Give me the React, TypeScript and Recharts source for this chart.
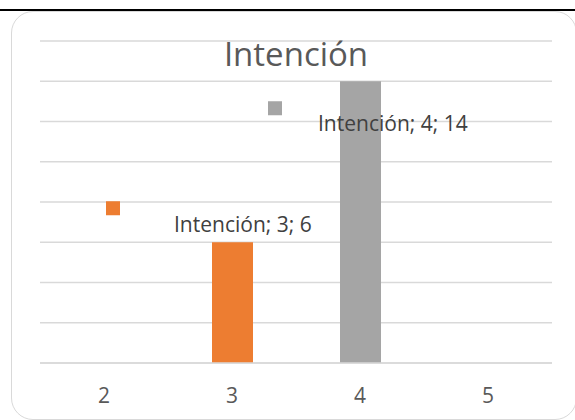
import { BarChart, Bar, XAxis, YAxis, CartesianGrid, Cell, LabelList } from "recharts";

const seriesName = "Intención";
const categories = ["2", "3", "4", "5"];
const values = [0, 6, 14, 0];
const barColors = ["#4472C4", "#ED7D31", "#A5A5A5", "#FFC000"];
const yTicks = [0, 2, 4, 6, 8, 10, 12, 14, 16];

// label placement relative to the bar's top-left corner (labels were dragged in the original)
const labelOffsets = [
  { keyDx: 0, keyDy: 0, textDx: 0, textDy: 0 },
  { keyDx: -106, keyDy: -41, textDx: -38, textDy: -10 },
  { keyDx: -72, keyDy: 20, textDx: -22, textDy: 50 },
  { keyDx: 0, keyDy: 0, textDx: 0, textDy: 0 },
];

const data = categories.map((c, i) => ({ cat: c, value: values[i], idx: i }));

const FONT = "'Open Sans', sans-serif";

// LabelList skips empty bars, so the row index is carried through the "idx" field
function DataLabel(props: any) {
  const { x, y, value: i } = props;
  const v = values[i];
  if (!v) return null;
  const off = labelOffsets[i];
  return (
    <g>
      <rect x={x + off.keyDx} y={y + off.keyDy} width={14} height={14} fill={barColors[i]} />
      <text x={x + off.textDx} y={y + off.textDy} fontFamily={FONT} fontSize={21} fill="#404040">
        {`${seriesName}; ${categories[i]}; ${v}`}
      </text>
    </g>
  );
}

export default function App() {
  return (
    <div style={{ position: "fixed", left: 0, top: 0, width: 575, height: 420, background: "#fff", overflow: "hidden" }}>
      <div style={{ position: "absolute", left: 0, top: 9, width: 575, height: 2, background: "#000" }} />
      <div
        style={{
          position: "absolute",
          left: 11,
          top: 11,
          width: 566,
          height: 409,
          boxSizing: "border-box",
          border: "1.5px solid #d9d9d9",
          borderRadius: 22,
        }}
      />
      <div style={{ position: "absolute", left: 0, top: 0 }}>
        <BarChart width={575} height={420} data={data} margin={{ top: 41, right: 23, left: 40, bottom: 27 }}>
          <CartesianGrid vertical={false} stroke="#d9d9d9" strokeWidth={1.5} />
          <XAxis
            dataKey="cat"
            height={30}
            axisLine={{ stroke: "#d9d9d9", strokeWidth: 1.5 }}
            tickLine={false}
            tickSize={0}
            tickMargin={25}
            tick={{ fontSize: 21, fill: "#595959", fontFamily: FONT }}
          />
          <YAxis hide domain={[0, 16]} ticks={yTicks} />
          <Bar dataKey="value" barSize={41} isAnimationActive={false}>
            {data.map((d, i) => (
              <Cell key={d.cat} fill={barColors[i]} />
            ))}
            <LabelList dataKey="idx" content={DataLabel} />
          </Bar>
        </BarChart>
      </div>
      <div
        style={{
          position: "absolute",
          left: 40,
          width: 512,
          top: 37,
          textAlign: "center",
          fontFamily: FONT,
          fontSize: 33,
          lineHeight: 1,
          color: "#595959",
        }}
      >
        {seriesName}
      </div>
    </div>
  );
}
